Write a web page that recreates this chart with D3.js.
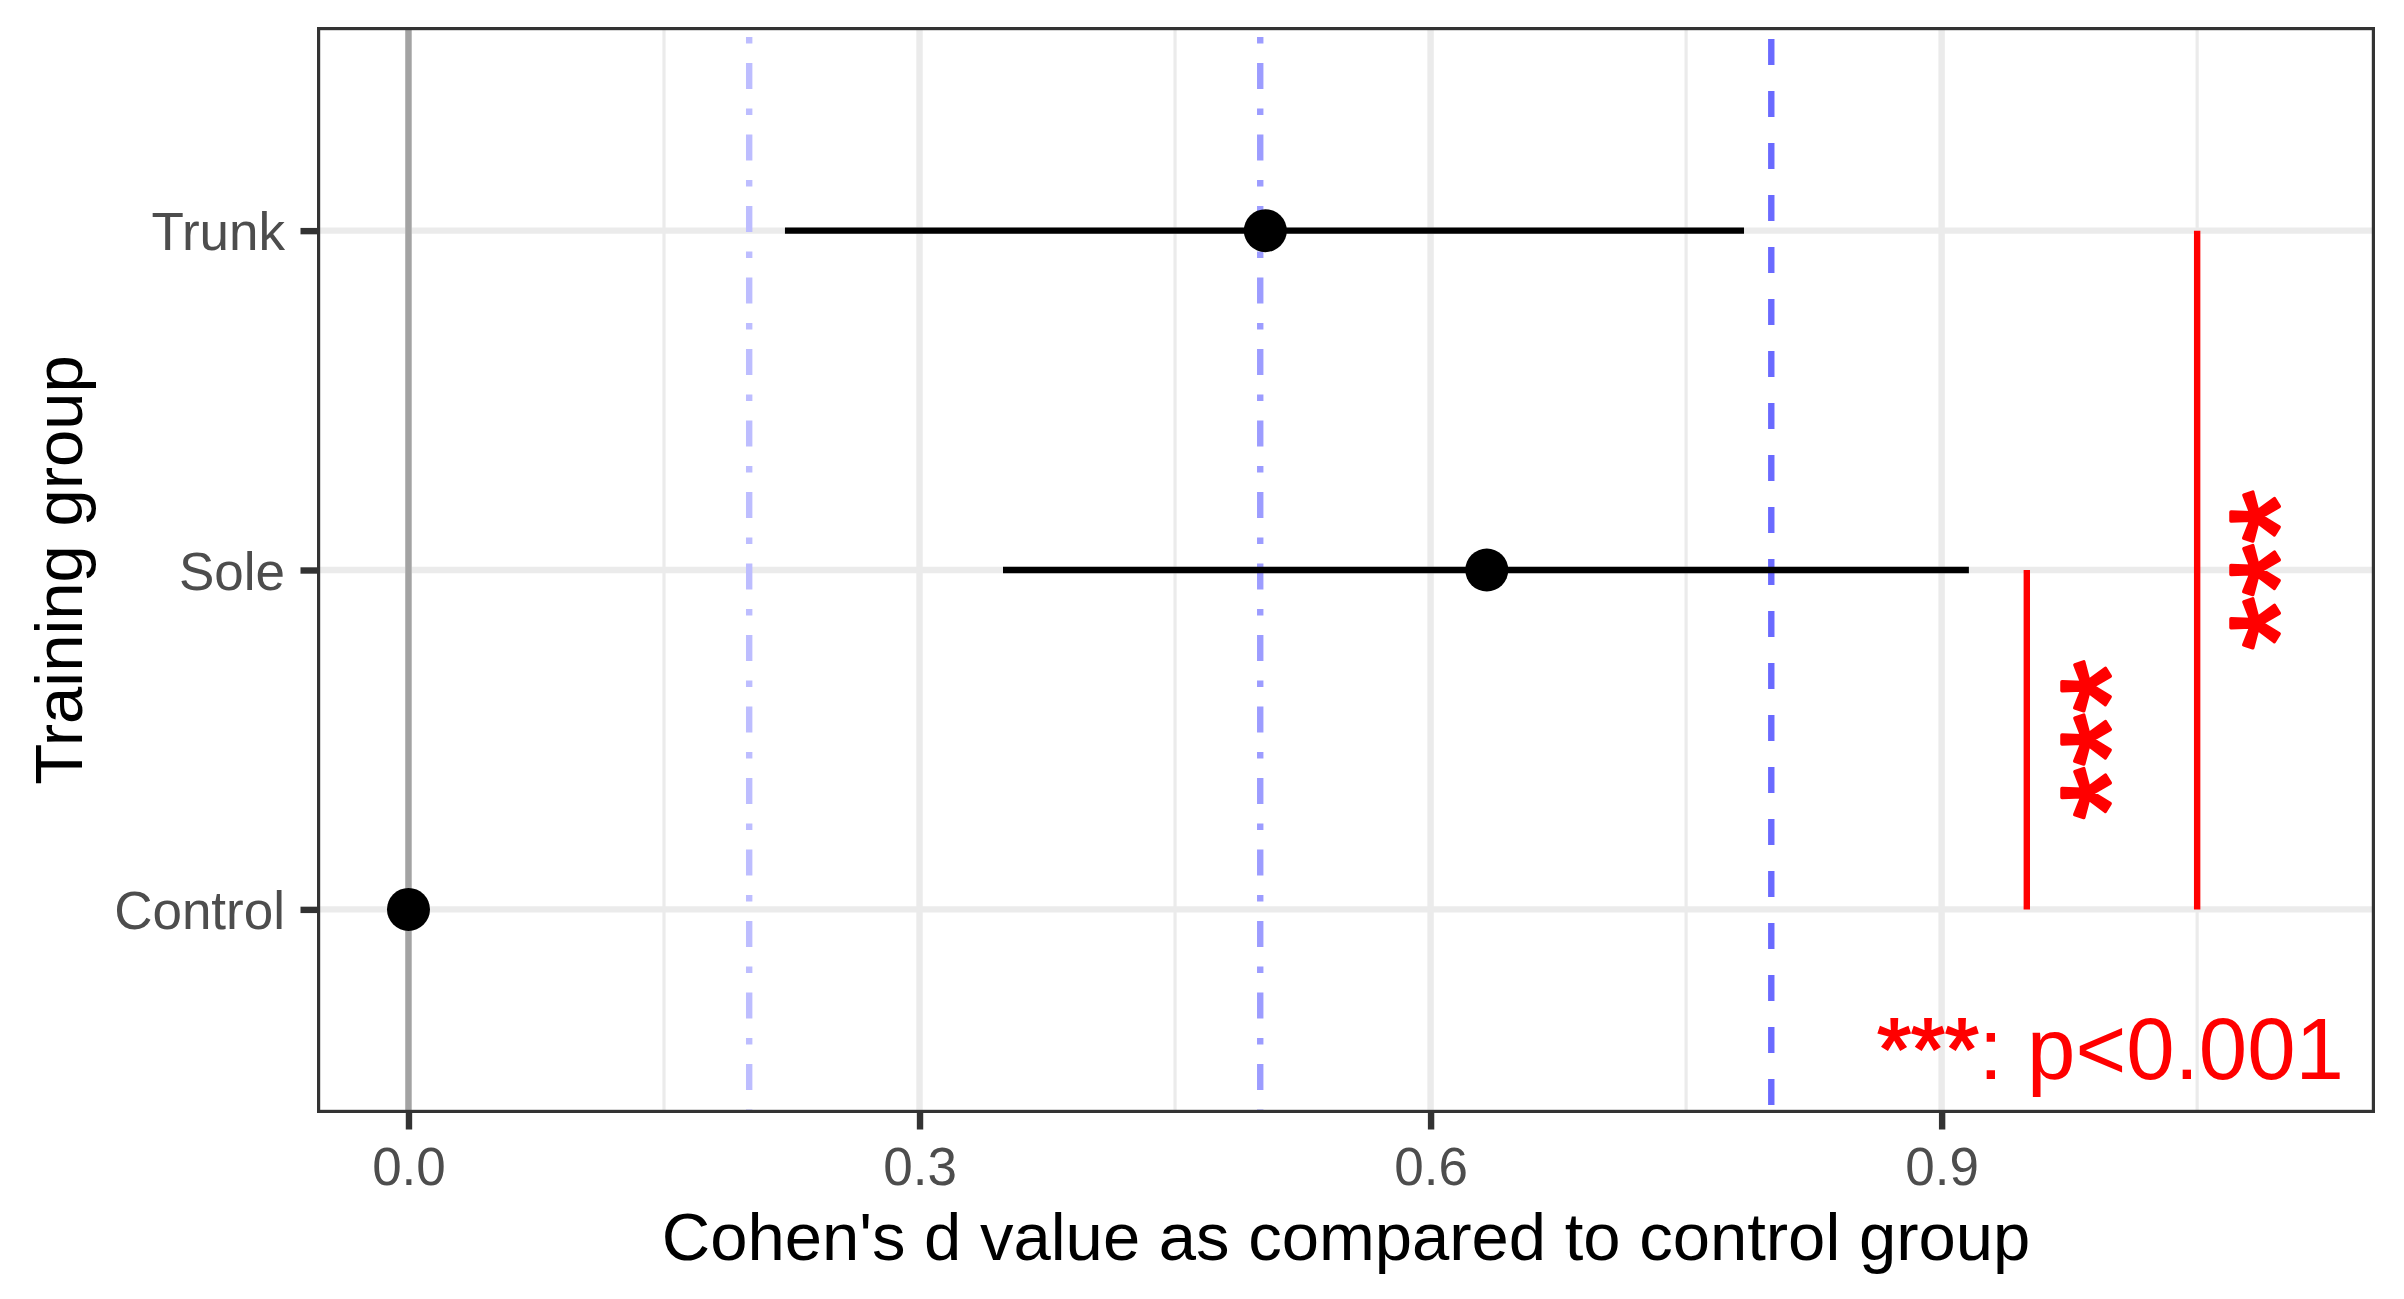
<!DOCTYPE html>
<html>
<head>
<meta charset="utf-8">
<script src="https://cdn.jsdelivr.net/npm/d3@7"></script>
<style>
  html, body { margin: 0; padding: 0; background: #ffffff; }
  svg { display: block; }
  text { font-family: "Liberation Sans", Arial, Helvetica, sans-serif; }
</style>
</head>
<body>
<script>
// ---------------- data ----------------
const groups = ["Trunk", "Sole", "Control"];
const cohenD = [0.503, 0.633, 0.0];
const ciLow = [0.221, 0.349, null];
const ciHigh = [0.784, 0.916, null];

const refValues = [0.2, 0.5, 0.8];          // small / medium / large effect
const xTicks = [0.0, 0.3, 0.6, 0.9];
const xMinorTicks = [0.15, 0.45, 0.75, 1.05];

const sigX = [0.95, 1.05];
const sigFrom = ["Sole", "Trunk"];
const sigTo = ["Control", "Control"];
const sigLabelX = [0.983, 1.082];
const sigLabels = ["***", "***"];
const noteStars = "***";
const noteText = ": p<0.001";

const xTitle = "Cohen's d value as compared to control group";
const yTitle = "Training group";

// ---------------- layout ----------------
const W = 2404, H = 1299;
const panel = { left: 317, right: 2375, top: 27, bottom: 1113 };

const svg = d3.select("body").append("svg")
  .attr("width", W).attr("height", H);

const x = d3.scaleLinear().domain([-0.0537, 1.1544]).range([panel.left, panel.right]);
const y = d3.scalePoint().domain(groups).range([panel.top, panel.bottom]).padding(0.6);

const lw = 6.4;

// grid
const g = svg.append("g");
g.selectAll(".minor").data(xMinorTicks).join("line")
  .attr("x1", d => x(d)).attr("x2", d => x(d))
  .attr("y1", panel.top).attr("y2", panel.bottom)
  .attr("stroke", "#EBEBEB").attr("stroke-width", lw / 2);
g.selectAll(".majorx").data(xTicks).join("line")
  .attr("x1", d => x(d)).attr("x2", d => x(d))
  .attr("y1", panel.top).attr("y2", panel.bottom)
  .attr("stroke", "#EBEBEB").attr("stroke-width", lw);
g.selectAll(".majory").data(groups).join("line")
  .attr("x1", panel.left).attr("x2", panel.right)
  .attr("y1", d => y(d)).attr("y2", d => y(d))
  .attr("stroke", "#EBEBEB").attr("stroke-width", lw);

// zero line
svg.append("line")
  .attr("x1", x(0)).attr("x2", x(0))
  .attr("y1", panel.top).attr("y2", panel.bottom)
  .attr("stroke", "#A3A3A3").attr("stroke-width", lw);

// reference lines
const refColors = ["#BDBDFF", "#9C9CFF", "#6A6AFF"];
const u = 6.5;
const refDash = [
  [u, 3 * u, 4 * u, 3 * u].join(","),
  [u, 3 * u, 4 * u, 3 * u].join(","),
  [4 * u, 4 * u].join(",")
];
const refOffset = [61.5, 61.5, 40];
svg.append("g").selectAll("line").data(refValues).join("line")
  .attr("x1", d => x(d)).attr("x2", d => x(d))
  .attr("y1", panel.top).attr("y2", panel.bottom)
  .attr("stroke", (d, i) => refColors[i])
  .attr("stroke-width", lw)
  .attr("stroke-dasharray", (d, i) => refDash[i])
  .attr("stroke-dashoffset", (d, i) => refOffset[i]);

// CI lines
const rows = groups.map((gname, i) => ({ g: gname, d: cohenD[i], lo: ciLow[i], hi: ciHigh[i] }));
svg.append("g").selectAll("line").data(rows.filter(r => r.lo !== null)).join("line")
  .attr("x1", r => x(r.lo)).attr("x2", r => x(r.hi))
  .attr("y1", r => y(r.g)).attr("y2", r => y(r.g))
  .attr("stroke", "#000").attr("stroke-width", lw);

// points
svg.append("g").selectAll("circle").data(rows).join("circle")
  .attr("cx", r => x(r.d)).attr("cy", r => y(r.g)).attr("r", 21.5)
  .attr("fill", "#000");

// significance bars
const sig = sigX.map((v, i) => ({ x: v, from: sigFrom[i], to: sigTo[i], lx: sigLabelX[i], lab: sigLabels[i] }));
svg.append("g").selectAll("line").data(sig).join("line")
  .attr("x1", s => x(s.x)).attr("x2", s => x(s.x))
  .attr("y1", s => y(s.from)).attr("y2", s => y(s.to))
  .attr("stroke", "#FF0000").attr("stroke-width", lw);

svg.append("g").selectAll("text").data(sig).join("text")
  .attr("transform", s => `translate(${x(s.lx)},${(y(s.from) + y(s.to)) / 2}) rotate(-90)`)
  .attr("text-anchor", "middle")
  .attr("dy", "0.54em")
  .attr("font-size", 137)
  .attr("fill", "#FF0000")
  .attr("stroke", "#FF0000")
  .attr("stroke-width", 3.5)
  .attr("stroke-linejoin", "round")
  .text(s => s.lab);

// note
const note = svg.append("text")
  .attr("x", 2344).attr("y", 1079)
  .attr("text-anchor", "end")
  .attr("font-size", 87)
  .attr("fill", "#FF0000");
note.append("tspan").attr("stroke", "#FF0000").attr("stroke-width", 2).text(noteStars);
note.append("tspan").text(noteText);

// panel border
svg.append("rect")
  .attr("x", panel.left + 1.6).attr("y", panel.top + 1.6)
  .attr("width", panel.right - panel.left - 3.2)
  .attr("height", panel.bottom - panel.top - 3.2)
  .attr("fill", "none").attr("stroke", "#333333").attr("stroke-width", 3.2);

// x axis
const xAxis = svg.append("g").attr("transform", `translate(0,${panel.bottom})`)
  .call(d3.axisBottom(x).tickValues(xTicks).tickFormat(d3.format(".1f")).tickSize(16.5).tickPadding(0));
xAxis.select(".domain").remove();
xAxis.selectAll(".tick line").attr("stroke", "#333333").attr("stroke-width", lw);
xAxis.selectAll(".tick text")
  .attr("y", 72).attr("dy", 0)
  .attr("font-size", 53).attr("fill", "#4D4D4D")
  .attr("font-family", "Liberation Sans, Arial, sans-serif");

// y axis
const yAxis = svg.append("g").attr("transform", `translate(${panel.left},0)`)
  .call(d3.axisLeft(y).tickSize(16.5).tickPadding(0));
yAxis.select(".domain").remove();
yAxis.selectAll(".tick line").attr("stroke", "#333333").attr("stroke-width", lw);
yAxis.selectAll(".tick text")
  .attr("x", -32).attr("dy", "0.36em")
  .attr("font-size", 53).attr("fill", "#4D4D4D")
  .attr("font-family", "Liberation Sans, Arial, sans-serif");

// axis titles
svg.append("text")
  .attr("x", (panel.left + panel.right) / 2).attr("y", 1260)
  .attr("text-anchor", "middle").attr("font-size", 67).attr("fill", "#000")
  .text(xTitle);
svg.append("text")
  .attr("transform", `translate(82,${(panel.top + panel.bottom) / 2}) rotate(-90)`)
  .attr("text-anchor", "middle").attr("font-size", 67).attr("fill", "#000")
  .text(yTitle);
</script>
</body>
</html>
